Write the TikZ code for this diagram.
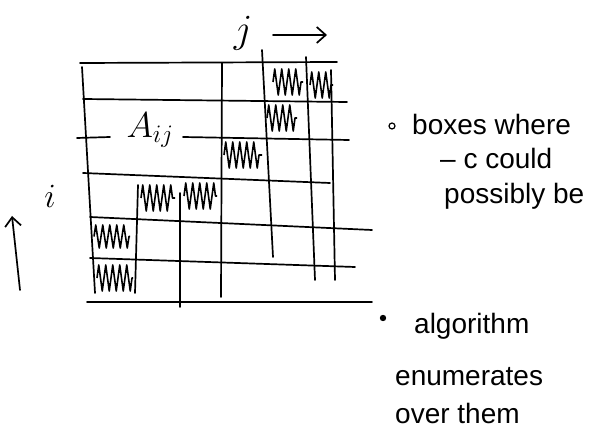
\documentclass[tikz,border=0pt]{standalone}
\usepackage{fix-cm}
\usepackage{fontspec}
\setmainfont{Liberation Sans}
\usetikzlibrary{decorations.pathmorphing,arrows.meta}
\tikzset{
  pen/.style={line width=1.7pt, line cap=round, line join=round, black},
  arr/.style={pen, -{Straight Barb[length=9pt,width=16pt]}},
  scribble/.style={line width=1.6pt, line join=round, decorate, decoration={zigzag, amplitude=#1, segment length=7pt}},
  note/.style={anchor=west, font=\fontsize{28}{30}\selectfont, inner sep=0pt},
}
\newcommand{\scrib}[4]{\draw[scribble={(#4-#2)/2-2}] (#1,{(#2+#4)/2}) -- (#3,{(#2+#4)/2});}
\begin{document}
\begin{tikzpicture}[x=1pt,y=-1pt]
\useasboundingbox (0,0) rectangle (592,435);
% horizontal grid lines
\draw[pen] (80,63) -- (337,62);
\draw[pen] (83,99) -- (347,102);
\draw[pen] (77,138) -- (110,137);
\draw[pen] (183,137) -- (349,140);
\draw[pen] (83,173) -- (330,183);
\draw[pen] (90,217) -- (372,230);
\draw[pen] (90,258) -- (355,267);
\draw[pen] (87,302) -- (372,302);
% vertical grid lines
\draw[pen] (82,67) -- (95,293);
\draw[pen] (138,185) -- (135,293);
\draw[pen] (180,193) -- (180,307);
\draw[pen] (222,63) -- (221,297);
\draw[pen] (262,50) -- (273,257);
\draw[pen] (306,57) -- (315,280);
\draw[pen] (331,70) -- (335,280);
% scribbled boxes
\scrib{273}{67}{303}{97}
\scrib{310}{70}{333}{100}
\scrib{267}{103}{297}{133}
\scrib{224}{140}{262}{170}
\scrib{141}{183}{175}{213}
\scrib{184}{181}{217}{211}
\scrib{94}{223}{130}{250}
\scrib{97}{263}{133}{293}
% labels
\node[inner sep=0pt, font=\fontsize{36}{38}\selectfont] (aij) at (150,130) {$A_{ij}$};
\node[inner sep=0pt, font=\fontsize{40}{42}\selectfont] (jlab) at (243,33) {$j$};
\coordinate (ja) at (273,35);
\coordinate (jb) at (327,35);
\draw[arr] (ja) -- (jb);
\node[inner sep=0pt, font=\fontsize{34}{36}\selectfont] (ilab) at (50,196) {$i$};
\coordinate (ia) at (20,290);
\coordinate (ib) at (12,216);
\draw[arr] (ia) -- (ib);
% notes
\draw[line width=1.2pt] (392,126) circle (3pt);
\node[note] (n1) at (412,124) {boxes where};
\node[note] (n2) at (440,158) {– c could};
\node[note] (n3) at (444,196) {possibly be};
\fill (383,318) circle (3.2pt);
\node[note] (n4) at (414,326) {algorithm};
\node[note] (n5) at (395,377) {enumerates};
\node[note] (n6) at (395,413) {over them};
\end{tikzpicture}
\end{document}
